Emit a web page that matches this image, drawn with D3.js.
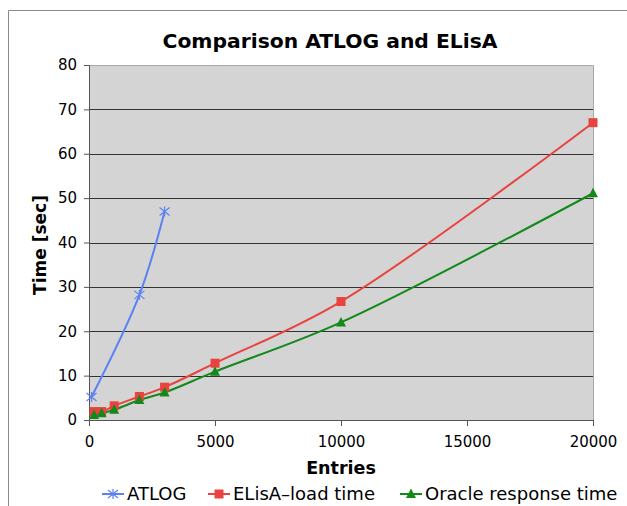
<!DOCTYPE html>
<html>
<head>
<meta charset="utf-8">
<script src="https://cdn.jsdelivr.net/npm/d3@7"></script>
<style>
html,body{margin:0;padding:0;background:#fff;}
svg{display:block;font-family:"DejaVu Sans",Verdana,sans-serif;}
</style>
</head>
<body>
<svg id="chart" width="627" height="506"></svg>
<script>
const yTicks = [0,10,20,30,40,50,60,70,80];
const xTicks = [0,5000,10000,15000,20000];
const atlogEntries = [100, 2000, 3000];
const atlogTime = [5.2, 28.2, 47];
const elisaEntries = [200, 500, 1000, 2000, 3000, 5000, 10000, 20000];
const elisaTime = [1.9, 1.9, 3.2, 5.3, 7.4, 12.8, 26.7, 67];
const oracleEntries = [200, 500, 1000, 2000, 3000, 5000, 10000, 20000];
const oracleTime = [1.1, 1.5, 2.3, 4.5, 6.2, 10.9, 22, 51.1];
const seriesNames = ["ATLOG", "ELisA\u2013load time", "Oracle response time"];

const svg = d3.select("#chart");
const L = 89, R = 593, T = 65, B = 420;
const x = d3.scaleLinear().domain([0,20000]).range([L,R]);
const y = d3.scaleLinear().domain([0,80]).range([B,T]);

// outer frame
svg.append("path").attr("d", "M8.5,506 L8.5,10.5 L627,10.5").attr("fill","none").attr("stroke","#8a8a8a").attr("stroke-width",1);

// plot background
svg.append("rect").attr("x",L).attr("y",T).attr("width",R-L).attr("height",B-T).attr("fill","#d4d4d4");
svg.append("path").attr("d",`M${L},${T+0.5} L${R+0.5},${T+0.5} L${R+0.5},${B}`).attr("fill","none").attr("stroke","#a8a8a8");

// gridlines
svg.append("g").selectAll("line").data(yTicks.filter(d=>d>0 && d<80)).join("line")
  .attr("x1",L).attr("x2",R).attr("y1",d=>Math.round(y(d))+0.5).attr("y2",d=>Math.round(y(d))+0.5)
  .attr("stroke","#333").attr("stroke-width",1);

// axes
const yAxis = d3.axisLeft(y).tickValues(yTicks).tickSize(5).tickPadding(7).tickFormat(d3.format("d"));
const gy = svg.append("g").attr("transform",`translate(${L},0)`).call(yAxis);
const xAxis = d3.axisBottom(x).tickValues(xTicks).tickSize(6).tickPadding(10).tickFormat(d3.format("d"));
const gx = svg.append("g").attr("transform",`translate(0,${B})`).call(xAxis);
[gx,gy].forEach(g=>{
  g.select(".domain").attr("stroke","#555");
  g.selectAll(".tick line").attr("stroke","#555");
  g.selectAll("text").attr("font-size",15).attr("fill","#000").attr("font-family","'DejaVu Sans',Verdana,sans-serif");
});

// series
const colors = ["#5b82f2","#e8433f","#13891a"];
const line = d3.line().x(d=>x(d[0])).y(d=>y(d[1])).curve(d3.curveCatmullRom.alpha(0.5));
const series = [
  d3.zip(atlogEntries, atlogTime),
  d3.zip(elisaEntries, elisaTime),
  d3.zip(oracleEntries, oracleTime)
];
series.forEach((s,i)=>{
  svg.append("path").attr("d",line(s)).attr("fill","none").attr("stroke",colors[i]).attr("stroke-width",2);
});

function marker(g, type, cx, cy, col){
  if(type===0){
    g.append("path").attr("d",`M${cx-5},${cy-4} L${cx+5},${cy+4} M${cx-5},${cy+4} L${cx+5},${cy-4} M${cx},${cy-5} L${cx},${cy+5}`)
      .attr("stroke",col).attr("stroke-width",1.2).attr("fill","none");
  } else if(type===1){
    g.append("rect").attr("x",cx-4.5).attr("y",cy-4.5).attr("width",9).attr("height",9).attr("fill",col);
  } else {
    g.append("path").attr("d",`M${cx},${cy-5.5} L${cx+5},${cy+4} L${cx-5},${cy+4} Z`).attr("fill",col);
  }
}
const mg = svg.append("g");
series.forEach((s,i)=>s.forEach(d=>marker(mg,i,x(d[0]),y(d[1]),colors[i])));

// titles
svg.append("text").attr("x",330).attr("y",48).attr("text-anchor","middle").attr("font-size",20.3).attr("font-weight","bold").text("Comparison ATLOG and ELisA");
svg.append("text").attr("x",341).attr("y",474).attr("text-anchor","middle").attr("font-size",17.5).attr("font-weight","bold").text("Entries");
svg.append("text").attr("transform","translate(46,245) rotate(-90)").attr("text-anchor","middle").attr("font-size",17).attr("font-weight","bold").text("Time [sec]");

// legend
const legX = [102, 208, 400];
const lg = svg.append("g");
seriesNames.forEach((n,i)=>{
  const lx = legX[i], ly = 494;
  lg.append("line").attr("x1",lx).attr("x2",lx+22).attr("y1",ly).attr("y2",ly).attr("stroke",colors[i]).attr("stroke-width",2);
  marker(lg,i,lx+11,ly,colors[i]);
  lg.append("text").attr("x",lx+25).attr("y",ly+6).attr("font-size",18).text(n);
});
</script>
</body>
</html>
